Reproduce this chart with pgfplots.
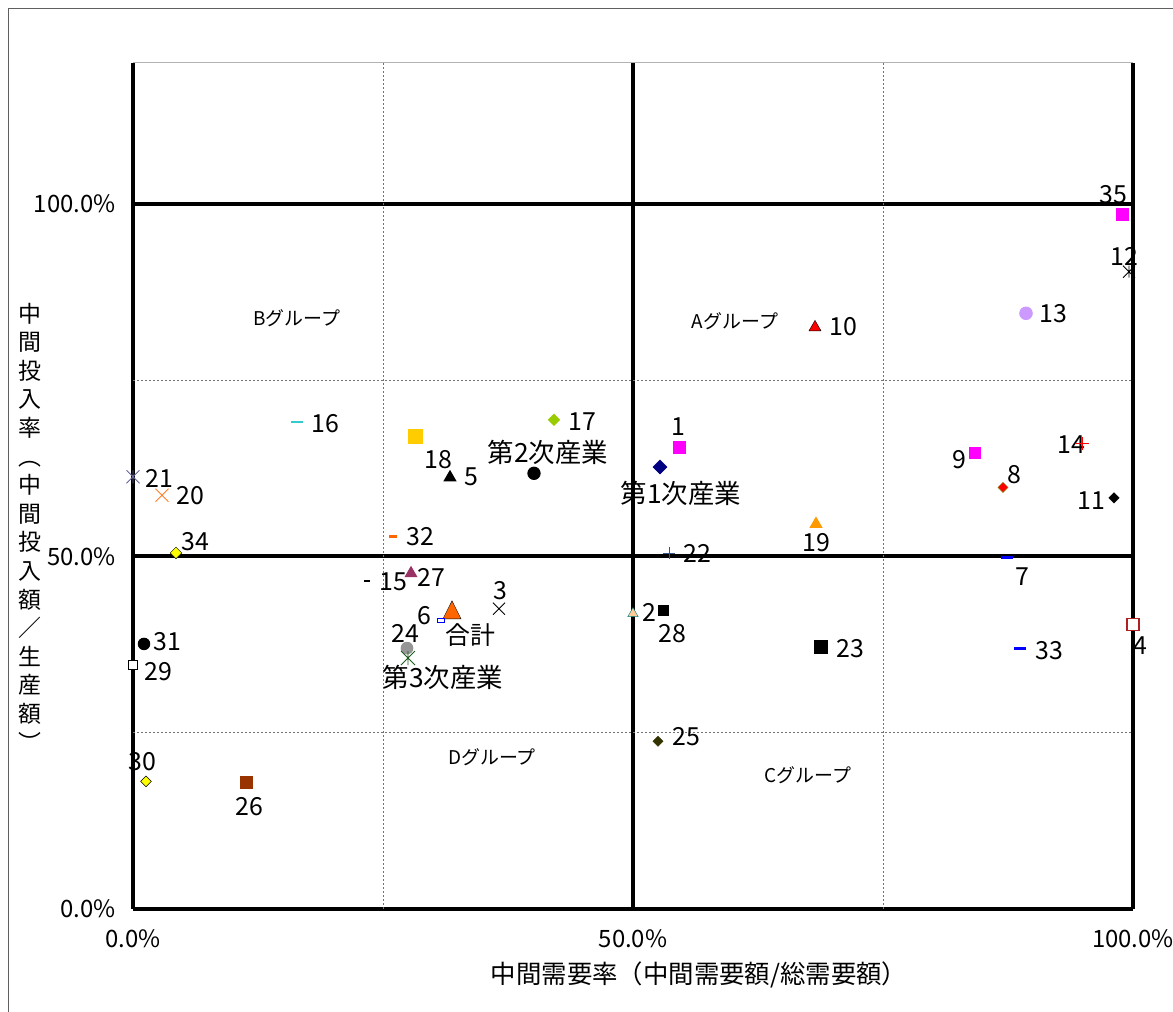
\documentclass[border=0pt]{standalone}
\usepackage{fontspec}
\setmainfont{Noto Sans CJK JP}
\usepackage{pgfplots}
\pgfplotsset{compat=1.18}

\definecolor{cMag}{HTML}{FF00FF}
\definecolor{cRed}{HTML}{FF0000}
\definecolor{cBlue}{HTML}{0000FF}
\definecolor{cYellow}{HTML}{FFFF00}
\definecolor{cNavy}{HTML}{000080}
\definecolor{cLime}{HTML}{99CC00}
\definecolor{cGold}{HTML}{FFCC00}
\definecolor{cOrange}{HTML}{FF6600}
\definecolor{cSlate}{HTML}{335588}
\definecolor{cPlum}{HTML}{993366}
\definecolor{cGray}{HTML}{969696}
\definecolor{cDkGreen}{HTML}{1E5B1E}
\definecolor{cPeach}{HTML}{FFCC99}
\definecolor{cTeal}{HTML}{008080}
\definecolor{cCyan}{HTML}{33CCCC}
\definecolor{cLav}{HTML}{666699}
\definecolor{cOrX}{HTML}{FF7F2A}
\definecolor{cBrown}{HTML}{993300}
\definecolor{cOlive}{HTML}{333300}
\definecolor{cAmber}{HTML}{FF9900}
\definecolor{cOl2}{HTML}{808000}
\definecolor{cMaroon}{HTML}{B02020}
\definecolor{cLilac}{HTML}{CC99FF}

\pgfdeclareplotmark{xstar}{%
  \pgfpathmoveto{\pgfqpoint{-\pgfplotmarksize}{-\pgfplotmarksize}}%
  \pgfpathlineto{\pgfqpoint{\pgfplotmarksize}{\pgfplotmarksize}}%
  \pgfpathmoveto{\pgfqpoint{-\pgfplotmarksize}{\pgfplotmarksize}}%
  \pgfpathlineto{\pgfqpoint{\pgfplotmarksize}{-\pgfplotmarksize}}%
  \pgfpathmoveto{\pgfqpoint{0pt}{-\pgfplotmarksize}}%
  \pgfpathlineto{\pgfqpoint{0pt}{\pgfplotmarksize}}%
  \pgfusepathqstroke}
\pgfdeclareplotmark{xx}{%
  \pgfpathmoveto{\pgfqpoint{-\pgfplotmarksize}{-\pgfplotmarksize}}%
  \pgfpathlineto{\pgfqpoint{\pgfplotmarksize}{\pgfplotmarksize}}%
  \pgfpathmoveto{\pgfqpoint{-\pgfplotmarksize}{\pgfplotmarksize}}%
  \pgfpathlineto{\pgfqpoint{\pgfplotmarksize}{-\pgfplotmarksize}}%
  \pgfusepathqstroke}

\newcommand\lfont{\fontsize{25}{30}\selectfont}
\newcommand\kfont{\fontsize{26.5}{30}\selectfont}
\newcommand\gfont{\fontsize{19}{23}\selectfont}

\begin{document}
\begin{tikzpicture}
\useasboundingbox (0,0) rectangle (1173bp,1012bp);
\draw[gray!75!black, line width=1bp] (8.5bp,0) -- (8.5bp,1003.5bp) -- (1173bp,1003.5bp);
\begin{axis}[
  at={(133bp,103bp)}, anchor=south west,
  scale only axis, width=1000bp, height=846bp,
  xmin=0, xmax=100, ymin=0, ymax=120,
  clip=false,
  axis line style={draw=none},
  xtick={0,50,100}, ytick={0,50,100},
  xticklabels={0.0\%,50.0\%,100.0\%},
  yticklabels={0.0\%,50.0\%,100.0\%},
  major tick length=0pt,
  grid=major,
  major grid style={black, line width=4bp},
  extra x ticks={25,75}, extra y ticks={25,75},
  extra x tick labels={}, extra y tick labels={},
  extra tick style={grid=major, major grid style={gray!90!black, dash pattern=on 2bp off 2bp, line width=0.9bp}},
  ticklabel style={font=\fontsize{24}{28}\selectfont},
  xticklabel style={yshift=-17bp},
  yticklabel style={xshift=-14bp},
  every axis plot/.append style={only marks, mark options={solid, line width=0.9bp}},
]
\draw[gray!60, line width=1bp] (axis cs:0,120) -- (axis cs:100,120);

% 1
\addplot[mark=square*, mark size=6bp, color=cMag] coordinates {(54.6,65.5)};
% Dai 1 ji sangyo
\addplot[mark=square*, mark size=5bp, color=cNavy, mark options={rotate=45}] coordinates {(52.7,62.7)};
% 17
\addplot[mark=square*, mark size=4.2bp, color=cLime, mark options={rotate=45}] coordinates {(42.1,69.4)};
% Dai 2 ji sangyo
\addplot[mark=*, mark size=6.2bp, color=black] coordinates {(40.1,61.8)};
% 18
\addplot[mark=square*, mark size=7bp, color=cGold] coordinates {(28.2,67.0)};
% 5
\addplot[mark=triangle*, mark size=6.8bp, color=black] coordinates {(31.7,61.2)};
% 32
\addplot[mark=-, mark size=3.7bp, color=cOrange, mark options={line width=3bp}] coordinates {(26.0,52.9)};
% 22
\addplot[mark=+, mark size=6bp, color=cSlate] coordinates {(53.6,50.5)};
% 27
\addplot[mark=triangle*, mark size=6.7bp, color=cPlum] coordinates {(27.8,47.6)};
% 15
\addplot[mark=-, mark size=3.3bp, color=black, mark options={line width=2bp}] coordinates {(23.4,46.5)};
% 3
\addplot[mark=xx, mark size=6bp, color=black] coordinates {(36.6,42.6)};
% Gokei
\addplot[mark=triangle*, mark size=10.5bp, mark options={fill=cOrange, draw=black, yscale=1.15}] coordinates {(31.9,42.0)};
% 6
\addplot[mark=square*, mark size=1.8bp, mark options={fill=white, draw=cBlue, xscale=2}] coordinates {(30.8,41.0)};
% 24
\addplot[mark=*, mark size=5.9bp, color=cGray] coordinates {(27.4,37.0)};
% Dai 3 ji sangyo
\addplot[mark=xstar, mark size=7bp, color=cDkGreen] coordinates {(27.5,35.6)};
% 2
\addplot[mark=triangle*, mark size=6bp, mark options={fill=cPeach, draw=cTeal}] coordinates {(50.0,41.9)};
% 28
\addplot[mark=square*, mark size=5bp, color=black] coordinates {(53.0,42.3)};
% 16
\addplot[mark=-, mark size=5.8bp, color=cCyan, mark options={line width=2.5bp}] coordinates {(16.4,69.1)};
% 21
\addplot[mark=xstar, mark size=6.5bp, color=cLav] coordinates {(0.0,61.3)};
% 20
\addplot[mark=xx, mark size=6.5bp, color=cOrX] coordinates {(2.9,58.7)};
% 34
\addplot[mark=square*, mark size=4.1bp, mark options={fill=cYellow, draw=black, rotate=45}] coordinates {(4.3,50.5)};
% 31
\addplot[mark=*, mark size=5.8bp, color=black] coordinates {(1.1,37.6)};
% 29
\addplot[mark=square*, mark size=4.5bp, mark options={fill=white, draw=black}] coordinates {(0.0,34.6)};
% 30
\addplot[mark=square*, mark size=3.8bp, mark options={fill=cYellow, draw=black, rotate=45}] coordinates {(1.3,18.1)};
% 26
\addplot[mark=square*, mark size=6bp, color=cBrown] coordinates {(11.3,18.0)};
% 25
\addplot[mark=square*, mark size=3.6bp, color=cOlive, mark options={rotate=45}] coordinates {(52.5,23.8)};
% 19
\addplot[mark=triangle*, mark size=6.7bp, color=cAmber] coordinates {(68.3,54.6)};
% 9
\addplot[mark=square*, mark size=5.5bp, color=cMag] coordinates {(84.2,64.7)};
% 14
\addplot[mark=+, mark size=6.5bp, color=cRed] coordinates {(94.9,66.0)};
% 8
\addplot[mark=square*, mark size=3.6bp, mark options={fill=cRed, draw=cOl2, rotate=45}] coordinates {(87.0,59.8)};
% 11
\addplot[mark=square*, mark size=3.7bp, color=black, mark options={rotate=45}] coordinates {(98.1,58.3)};
% 7
\addplot[mark=-, mark size=6bp, color=cBlue, mark options={line width=3bp}] coordinates {(87.4,49.8)};
% 23
\addplot[mark=square*, mark size=6.3bp, color=black] coordinates {(68.8,37.2)};
% 33
\addplot[mark=-, mark size=5.7bp, color=cBlue, mark options={line width=3bp}] coordinates {(88.7,37.0)};
% 4
\addplot[mark=square*, mark size=6bp, mark options={fill=white, draw=cMaroon, line width=1.2bp}] coordinates {(100.0,40.3)};
% 35
\addplot[mark=square*, mark size=6bp, color=cMag] coordinates {(98.9,98.5)};
% 12
\addplot[mark=xstar, mark size=6bp, color=black] coordinates {(99.6,90.4)};
% 10
\addplot[mark=triangle*, mark size=7bp, mark options={fill=cRed, draw=black}] coordinates {(68.2,82.5)};
% 13
\addplot[mark=*, mark size=6.3bp, color=cLilac] coordinates {(89.3,84.5)};

% point labels
\begin{scope}[every node/.style={font=\lfont, inner sep=0pt}]
\node at (axis cs:54.5,68.4) {1};
\node at (axis cs:44.9,69.1) {17};
\node[font=\kfont] at (axis cs:41.5,64.7) {第2次産業};
\node[font=\kfont] at (axis cs:54.8,59.0) {第1次産業};
\node at (axis cs:30.5,63.8) {18};
\node at (axis cs:33.8,61.3) {5};
\node at (axis cs:28.7,52.8) {32};
\node at (axis cs:56.4,50.5) {22};
\node at (axis cs:29.8,47.0) {27};
\node at (axis cs:26.0,46.4) {15};
\node at (axis cs:36.7,45.1) {3};
\node at (axis cs:29.1,41.6) {6};
\node at (axis cs:33.7,38.9) {合計};
\node at (axis cs:27.2,39.1) {24};
\node[font=\kfont] at (axis cs:31.0,32.9) {第3次産業};
\node at (axis cs:51.6,42.0) {2};
\node at (axis cs:53.9,39.1) {28};
\node at (axis cs:19.2,68.9) {16};
\node at (axis cs:2.6,61.1) {21};
\node at (axis cs:5.7,58.6) {20};
\node at (axis cs:6.2,52.1) {34};
\node at (axis cs:3.4,37.9) {31};
\node at (axis cs:2.5,33.6) {29};
\node at (axis cs:0.9,20.9) {30};
\node at (axis cs:11.6,14.5) {26};
\node at (axis cs:55.3,24.5) {25};
\node at (axis cs:68.3,51.9) {19};
\node at (axis cs:82.6,63.7) {9};
\node at (axis cs:93.8,65.8) {14};
\node at (axis cs:88.1,61.6) {8};
\node at (axis cs:95.8,57.9) {11};
\node at (axis cs:88.9,47.2) {7};
\node at (axis cs:71.7,37.0) {23};
\node at (axis cs:91.6,36.6) {33};
\node at (axis cs:100.7,37.4) {4};
\node at (axis cs:98.0,101.3) {35};
\node at (axis cs:99.1,92.5) {12};
\node at (axis cs:71.0,82.6) {10};
\node at (axis cs:92.0,84.4) {13};
\end{scope}
% group labels
\begin{scope}[every node/.style={font=\gfont, inner sep=0pt}]
\node at (axis cs:60.2,83.4) {Aグループ};
\node at (axis cs:16.4,83.8) {Bグループ};
\node at (axis cs:35.9,21.6) {Dグループ};
\node at (axis cs:67.5,19.0) {Cグループ};
\end{scope}
\end{axis}
% axis titles
\node[font=\fontsize{25.5}{30}\selectfont, inner sep=0pt] at (699bp,37bp) {中間需要率（中間需要額/総需要額）};
\node[font=\fontsize{23}{28.7}\selectfont, inner sep=0pt, align=center] at (30bp,485bp)
 {中\\間\\投\\入\\率\\︵\\中\\間\\投\\入\\額\\／\\生\\産\\額\\︶};
\end{tikzpicture}
\end{document}
